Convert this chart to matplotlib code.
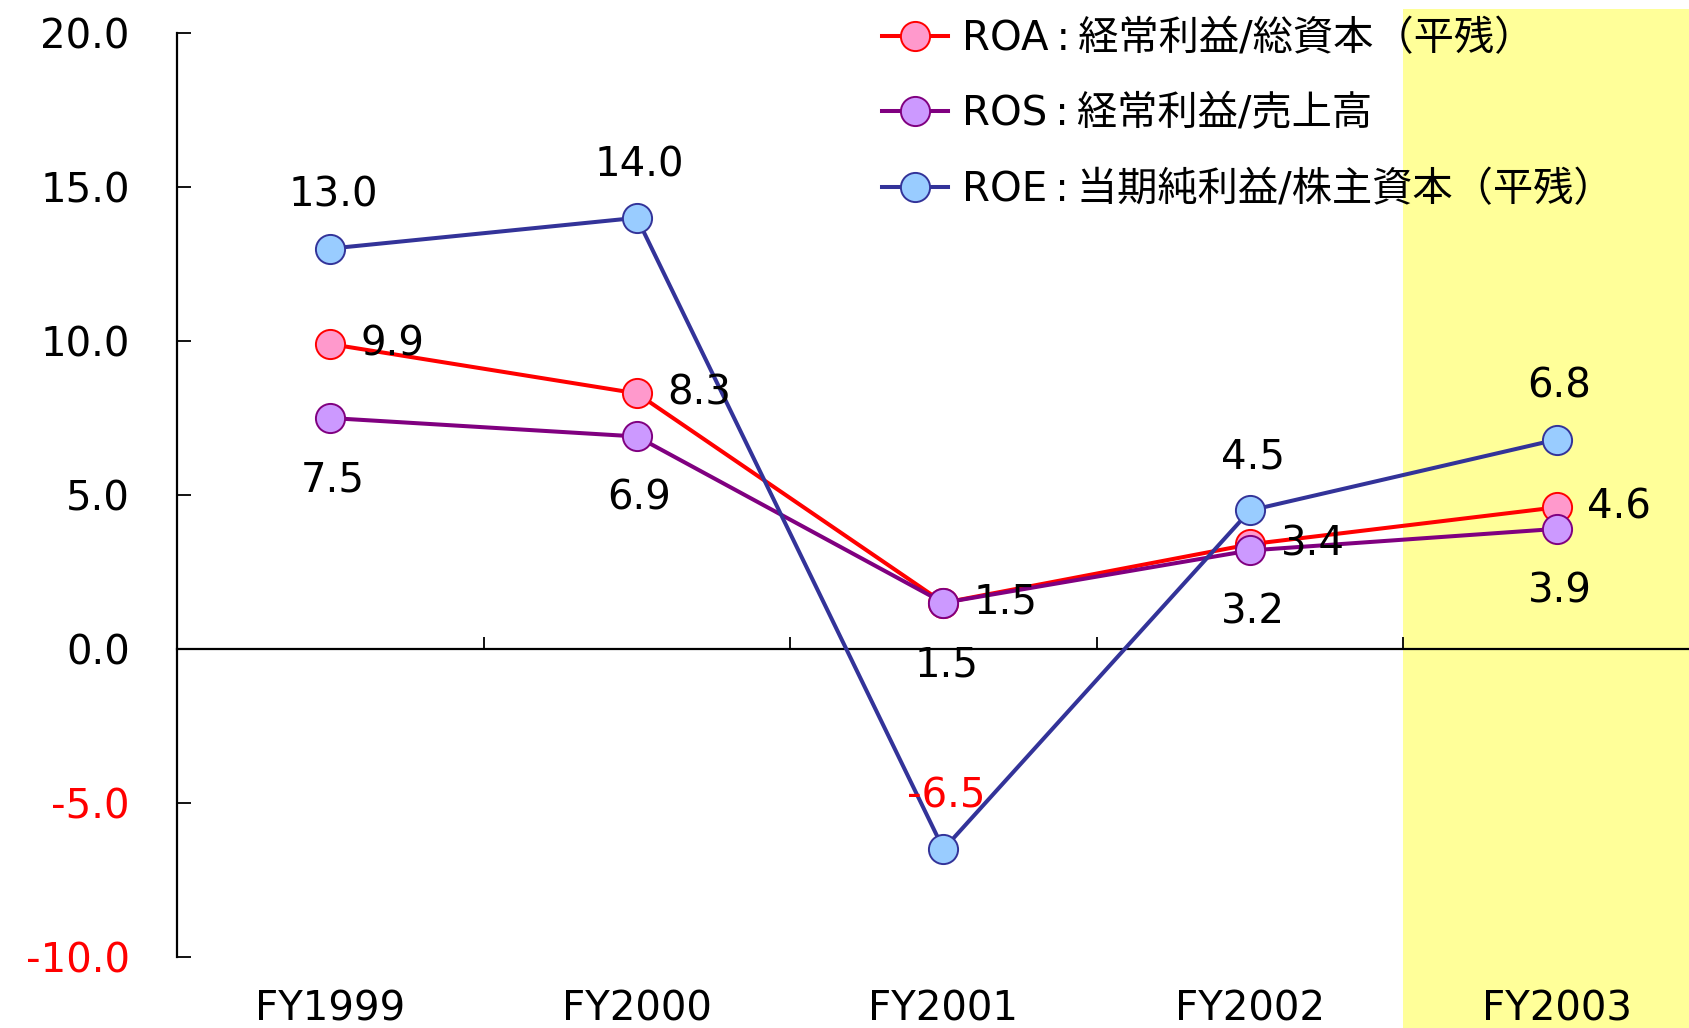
import matplotlib
matplotlib.use("Agg")
import matplotlib.pyplot as plt

plt.rcParams['font.family'] = ['DejaVu Sans', 'Noto Sans CJK JP']

years = ["FY1999", "FY2000", "FY2001", "FY2002", "FY2003"]
roa = [9.9, 8.3, 1.5, 3.4, 4.6]
ros = [7.5, 6.9, 1.5, 3.2, 3.9]
roe = [13.0, 14.0, -6.5, 4.5, 6.8]
labels = ["ROA\u2009:\u2009経常利益/総資本（平残）",
          "ROS\u2009:\u2009経常利益/売上高",
          "ROE\u2009:\u2009当期純利益/株主資本（平残）"]
yticks = [-10, -5, 0, 5, 10, 15, 20]

fs = 29
fig = plt.figure(figsize=(16.9, 10.28), dpi=100)
ax = fig.add_axes([177 / 1690, 71 / 1028, 1533 / 1690, 924 / 1028])
ax.set_xlim(-0.5, 4.5)
ax.set_ylim(-10, 20)

# highlighted latest year
ax.axvspan(3.5, 4.5, ymin=-0.1, ymax=1.026, color='#FFFF99', lw=0,
           clip_on=False, zorder=0)

x = range(len(years))
styles = [(roa, '#FF0000', '#FF99CC'),
          (ros, '#800080', '#CC99FF'),
          (roe, '#333399', '#99CCFF')]
handles = []
for (vals, lc, fc), lab in zip(styles, labels):
    h, = ax.plot(x, vals, color=lc, lw=2.9, marker='o', ms=21,
                 mfc=fc, mec=lc, mew=1.4, label=lab, zorder=3)
    handles.append(h)

# data labels
for i in x:
    ax.annotate(f"{roa[i]:.1f}", (i, roa[i]), xytext=(22, 0),
                textcoords='offset points', ha='left', va='center',
                fontsize=fs, zorder=5)
    ax.annotate(f"{ros[i]:.1f}", (i, ros[i]), xytext=(2, -45),
                textcoords='offset points', ha='center', va='center',
                fontsize=fs, zorder=5)
    ax.annotate(f"{roe[i]:.1f}", (i, roe[i]), xytext=(2, 38),
                textcoords='offset points', ha='center', va='center',
                fontsize=fs, color='red' if roe[i] < 0 else 'black',
                zorder=5)

# axes styling
for s in ['top', 'right']:
    ax.spines[s].set_visible(False)
ax.spines['left'].set_linewidth(1.6)
ax.spines['bottom'].set_position(('data', 0))
ax.spines['bottom'].set_linewidth(1.6)
ax.spines['bottom'].set_bounds(-0.5, 4.5)

ax.set_yticks(yticks)
ax.set_yticklabels([f"{v:.1f}" for v in yticks], fontsize=fs)
for t, v in zip(ax.get_yticklabels(), yticks):
    if v < 0:
        t.set_color('red')
ax.tick_params(axis='y', direction='in', length=10, width=1.3, pad=34)

ax.set_xticks([0.5, 1.5, 2.5, 3.5])
ax.set_xticklabels([])
ax.tick_params(axis='x', direction='in', length=9, width=1.3)

for i, yr in enumerate(years):
    ax.text(i, -0.057, yr, transform=ax.get_xaxis_transform(),
            ha='center', va='center', fontsize=fs)

leg = ax.legend(handles=handles, loc='upper left',
                bbox_to_anchor=(882 / 1690, 1 - 19 / 1028),
                bbox_transform=fig.transFigure, frameon=False,
                fontsize=fs, handlelength=1.64, handletextpad=0.35,
                labelspacing=0.88, borderpad=0, borderaxespad=0)

fig.savefig("out.png", dpi=100)
